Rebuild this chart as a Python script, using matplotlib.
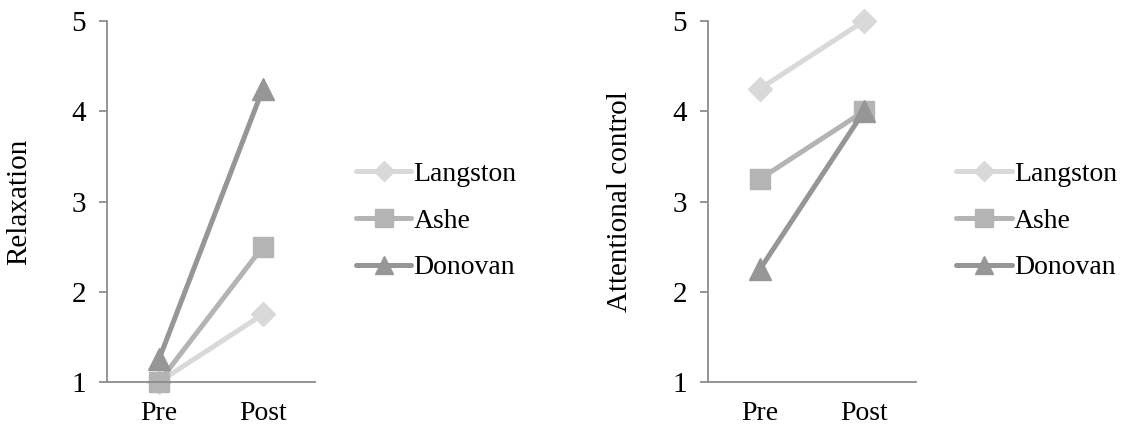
import matplotlib
matplotlib.use("Agg")
import matplotlib.pyplot as plt

phases = ["Pre", "Post"]
names = ["Langston", "Ashe", "Donovan"]
relaxation = {
    "Langston": [1.0, 1.75],
    "Ashe": [1.0, 2.5],
    "Donovan": [1.25, 4.25],
}
attentional = {
    "Langston": [4.25, 5.0],
    "Ashe": [3.25, 4.0],
    "Donovan": [2.25, 4.0],
}
y_ticks = [1, 2, 3, 4, 5]

colors = {"Langston": "#D9D9D9", "Ashe": "#B4B4B4", "Donovan": "#969696"}
markers = {"Langston": ("D", 12), "Ashe": ("s", 14.5), "Donovan": ("^", 16)}

plt.rcParams["font.family"] = ["Liberation Serif", "DejaVu Serif"]
plt.rcParams["font.size"] = 20

fig = plt.figure(figsize=(11.26, 4.34), dpi=100)


def panel(rect, data, ylabel, legend_x):
    ax = fig.add_axes(rect)
    x = list(range(len(phases)))
    for n in names:
        m, ms = markers[n]
        ax.plot(x, data[n], color=colors[n], lw=3.6, marker=m, ms=ms,
                mfc=colors[n], mec=colors[n], label=n, solid_capstyle="round",
                clip_on=False)
    ax.set_xlim(-0.5, len(phases) - 0.5)
    ax.set_ylim(1, 5)
    ax.set_yticks(y_ticks)
    ax.set_xticks(x)
    ax.set_xticklabels(phases)
    for s in ["top", "right"]:
        ax.spines[s].set_visible(False)
    for s in ["left", "bottom"]:
        ax.spines[s].set_color("#8C8C8C")
        ax.spines[s].set_linewidth(1.3)
    ax.tick_params(axis="y", direction="out", length=6, width=1.3,
                   color="#8C8C8C", pad=9, labelsize=21)
    ax.tick_params(axis="x", length=0, pad=14, labelsize=20)
    ax.set_ylabel(ylabel, fontsize=21)
    ax.yaxis.set_label_coords(-0.36, 0.5)
    ax.legend(loc="center left", bbox_to_anchor=(legend_x, 0.491),
              bbox_transform=fig.transFigure, frameon=False,
              handlelength=2.0, handletextpad=0.08, labelspacing=0.77,
              fontsize=20, borderaxespad=0, borderpad=0, markerscale=0.85)
    return ax


panel([0.095, 0.1198, 0.1847, 0.8318], relaxation, "Relaxation", 0.316)
panel([0.6288, 0.1198, 0.1847, 0.8318], attentional, "Attentional control", 0.849)

fig.savefig("out.png", dpi=100)
